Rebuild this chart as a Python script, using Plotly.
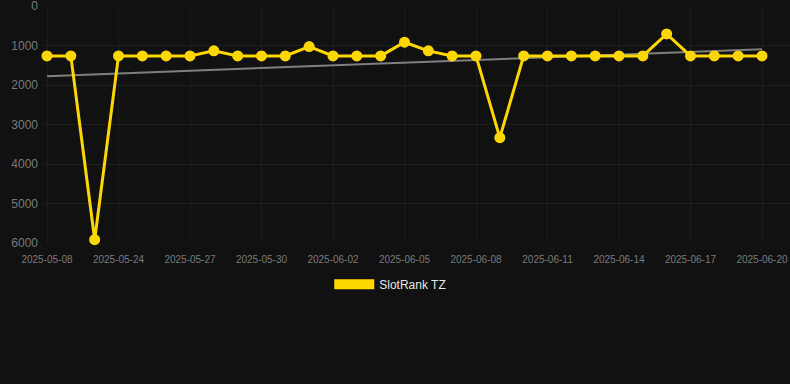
import numpy as np
import plotly.graph_objects as go

dates = ["2025-05-08", "2025-05-22", "2025-05-23", "2025-05-24", "2025-05-25", "2025-05-26",
         "2025-05-27", "2025-05-28", "2025-05-29", "2025-05-30", "2025-05-31", "2025-06-01",
         "2025-06-02", "2025-06-03", "2025-06-04", "2025-06-05", "2025-06-06", "2025-06-07",
         "2025-06-08", "2025-06-09", "2025-06-10", "2025-06-11", "2025-06-12", "2025-06-13",
         "2025-06-14", "2025-06-15", "2025-06-16", "2025-06-17", "2025-06-18", "2025-06-19",
         "2025-06-20"]
ranks = [1263, 1263, 5917, 1263, 1263, 1263, 1263, 1136, 1263, 1263, 1263, 1026,
         1263, 1263, 1263, 917, 1136, 1263, 1263, 3333, 1263, 1263, 1263, 1263,
         1263, 1263, 707, 1263, 1263, 1263, 1263]
tick_labels = dates[0::3]
y_ticks = [0, 1000, 2000, 3000, 4000, 5000, 6000]
series_name = "SlotRank TZ"

idx = np.arange(len(ranks))
slope, intercept = np.polyfit(idx, ranks, 1)
trend = slope * idx + intercept

GOLD = "#FFD700"
FONT = "Liberation Sans, Arial, sans-serif"
GRID = "#1f1f1f"
TICK = "#7a7a7a"

fig = go.Figure()
fig.add_trace(go.Scatter(x=dates, y=trend, mode="lines",
                         line=dict(color="#7f7f7f", width=2),
                         showlegend=False, hoverinfo="skip"))
fig.add_trace(go.Scatter(x=dates, y=ranks, mode="lines+markers",
                         line=dict(color=GOLD, width=3),
                         marker=dict(color=GOLD, size=11),
                         cliponaxis=False,
                         showlegend=False, name=series_name))
fig.add_trace(go.Scatter(x=[None], y=[None], mode="lines",
                         line=dict(color=GOLD, width=12),
                         name=series_name, showlegend=True))

fig.update_layout(
    width=790, height=384,
    paper_bgcolor="#111111", plot_bgcolor="#111111",
    margin=dict(l=43, r=0, t=6, b=141),
    font=dict(family=FONT, color=TICK),
    showlegend=True,
    legend=dict(orientation="h", xref="container", yref="container",
                x=0.494, xanchor="center", y=0.26, yanchor="middle",
                font=dict(size=12, color="#e6e6e6", family=FONT),
                bgcolor="rgba(0,0,0,0)", itemwidth=40),
    xaxis=dict(type="category", categoryorder="array", categoryarray=dates,
               range=[-0.168, 31.175],
               tickmode="array", tickvals=tick_labels, ticktext=tick_labels,
               tickfont=dict(size=10, color=TICK, family=FONT),
               showgrid=True, gridcolor="#1c1c1c", gridwidth=1,
               zeroline=False, showline=False, ticks="", ticklabelstandoff=9,
               ticklabeloverflow="allow"),
    yaxis=dict(range=[6000, 0], tickmode="array", tickvals=y_ticks,
               ticktext=[str(v) for v in y_ticks],
               tickfont=dict(size=12, color=TICK, family=FONT),
               showgrid=True, gridcolor=GRID, gridwidth=1,
               zeroline=False, showline=False, ticks="", ticklabelstandoff=4,
               ticklabeloverflow="allow"),
)

fig.write_html("out.html", config={"displayModeBar": False},
               post_script="document.body.style.margin='0';document.body.style.background='#111111';")
